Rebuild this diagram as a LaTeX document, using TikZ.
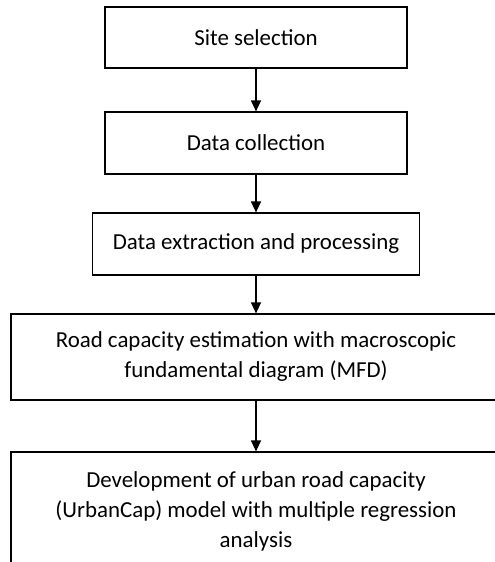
\documentclass[tikz,border=0pt]{standalone}
\usepackage{fontspec}
\setmainfont{Carlito}
\usetikzlibrary{arrows.meta}
\begin{document}
\begin{tikzpicture}[x=1pt,y=-1pt,
  stage/.style={draw=black,line width=1.2pt,align=center,inner sep=0pt,
    font=\fontsize{22.9}{30}\selectfont},
  flow/.style={-{Triangle[length=11pt,width=10pt]},line width=1.2pt}]
\useasboundingbox (0,0) rectangle (495,562);
\clip (0,0) rectangle (495,562);
\node[stage,minimum width=302pt,minimum height=61pt] (site) at (256,37.5) {Site selection};
\node[stage,minimum width=302pt,minimum height=62pt] (collect) at (256,143) {Data collection};
\node[stage,minimum width=327pt,minimum height=62pt] (extract) at (256,244) {Data extraction and processing};
\node[stage,minimum width=490pt,minimum height=86pt] (mfd) at (256,357)
  {Road capacity estimation with macroscopic\\fundamental diagram (MFD)};
\node[stage,minimum width=490pt,minimum height=118pt] (model) at (256,511)
  {Development of urban road capacity\\(UrbanCap) model with multiple regression\\analysis};
\draw[flow] (site) -- (collect);
\draw[flow] (collect) -- (extract);
\draw[flow] (extract) -- (mfd);
\draw[flow] (mfd) -- (model);
\end{tikzpicture}
\end{document}
